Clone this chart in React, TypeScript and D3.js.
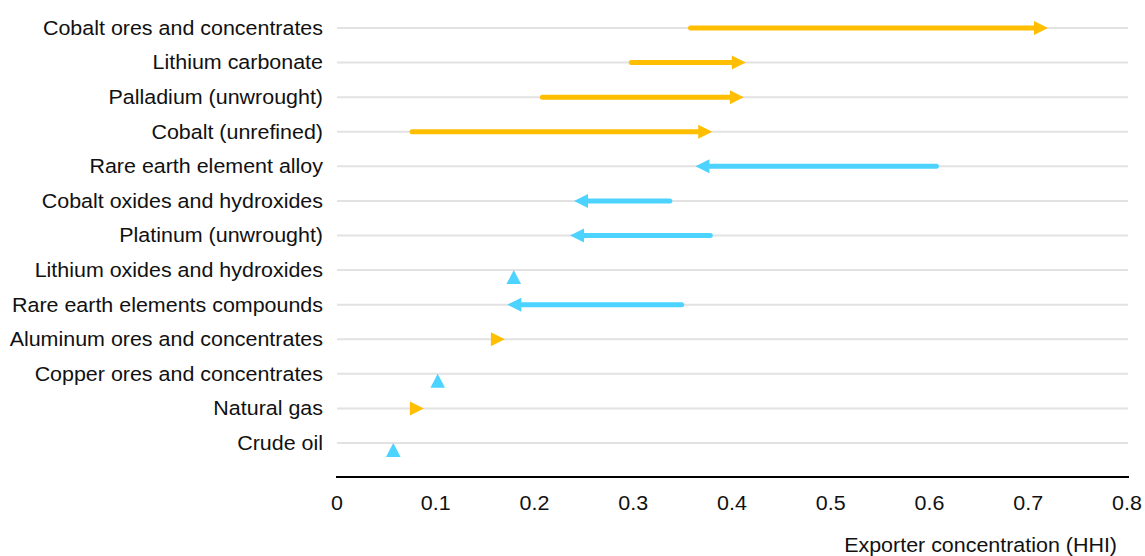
import React from "react";
import * as d3 from "d3";

const categories = [
  "Cobalt ores and concentrates",
  "Lithium carbonate",
  "Palladium (unwrought)",
  "Cobalt (unrefined)",
  "Rare earth element alloy",
  "Cobalt oxides and hydroxides",
  "Platinum (unwrought)",
  "Lithium oxides and hydroxides",
  "Rare earth elements compounds",
  "Aluminum ores and concentrates",
  "Copper ores and concentrates",
  "Natural gas",
  "Crude oil",
];
const startValues = [0.358, 0.298, 0.208, 0.076, 0.607, 0.337, 0.378, 0.179, 0.349, 0.163, 0.102, 0.081, 0.057];
const endValues = [0.72, 0.414, 0.412, 0.38, 0.363, 0.24, 0.236, 0.179, 0.1725, 0.17, 0.102, 0.088, 0.057];
const xTicks = [0, 0.1, 0.2, 0.3, 0.4, 0.5, 0.6, 0.7, 0.8];
const xTitle = "Exporter concentration (HHI)";

const YELLOW = "#FFBF00";
const BLUE = "#4CD3FF";
const FONT = "'Liberation Sans', Arial, sans-serif";

function SText({ x, y, anchor, children }: { x: number; y: number; anchor: string; children: React.ReactNode }) {
  return (
    <g transform={`translate(${x},${y}) scale(1.1,1)`}>
      <text x={0} y={0} dy="0.35em" textAnchor={anchor} fontSize={19.5} fill="#111">
        {children}
      </text>
    </g>
  );
}

export default function App() {
  const W = 1145;
  const H = 556;
  const x = d3.scaleLinear().domain([0, 0.8]).range([337, 1127]);
  const y = d3.scalePoint<string>().domain(categories).range([28, 443]);
  const headLen = 14;
  const headHalf = 7;

  return (
    <svg
      width={W}
      height={H}
      style={{ position: "absolute", left: 0, top: 0, background: "#fff" }}
      fontFamily={FONT}
    >
      {categories.map((c) => (
        <line key={"g" + c} x1={x(0)} x2={x(0.8) + 1} y1={y(c)} y2={y(c)} stroke="#e2e2e2" strokeWidth={2} />
      ))}
      {categories.map((c) => (
        <SText key={"l" + c} x={323} y={y(c)!} anchor="end">
          {c}
        </SText>
      ))}
      {categories.map((c, i) => {
        const s = startValues[i];
        const e = endValues[i];
        const yy = y(c)!;
        if (s === e) {
          const cx = x(e);
          const path = d3.path();
          path.moveTo(cx, yy);
          path.lineTo(cx + 7.3, yy + 14);
          path.lineTo(cx - 7.3, yy + 14);
          path.closePath();
          return <path key={"m" + c} d={path.toString()} fill={BLUE} />;
        }
        const dir = e > s ? 1 : -1;
        const color = dir > 0 ? YELLOW : BLUE;
        const tip = x(e);
        const base = tip - dir * headLen;
        const xs = x(s);
        const showLine = (base - xs) * dir > 0;
        const head = d3.path();
        head.moveTo(tip, yy);
        head.lineTo(base, yy - headHalf);
        head.lineTo(base, yy + headHalf);
        head.closePath();
        return (
          <g key={"a" + c}>
            {showLine && (
              <line x1={xs} x2={base + dir} y1={yy} y2={yy} stroke={color} strokeWidth={5} strokeLinecap="round" />
            )}
            <path d={head.toString()} fill={color} />
          </g>
        );
      })}
      <line x1={x(0) - 1} x2={x(0.8) + 2} y1={477} y2={477} stroke="#000" strokeWidth={2} />
      {xTicks.map((t) => (
        <SText key={"t" + t} x={x(t)} y={503} anchor="middle">
          {t === 0 ? "0" : d3.format(".1f")(t)}
        </SText>
      ))}
      <SText x={1117} y={545} anchor="end">
        {xTitle}
      </SText>
    </svg>
  );
}
